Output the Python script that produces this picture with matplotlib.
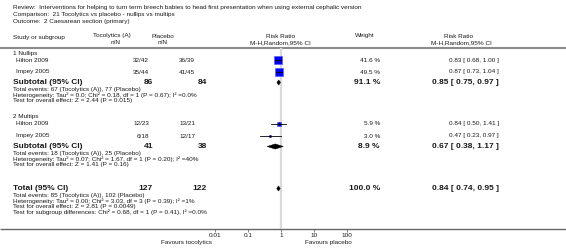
import matplotlib
matplotlib.use('Agg')
import matplotlib.pyplot as plt
import numpy as np

plt.rcParams['font.family'] = ['Liberation Sans', 'DejaVu Sans']

# data
studies = ['Hilton 2009', 'Impey 2005', 'Hilton 2009', 'Impey 2005']
toc_e = [32, 35, 12, 6]
toc_n = [42, 44, 23, 18]
pla_e = [36, 41, 13, 12]
pla_n = [39, 45, 21, 17]
weights = [41.6, 49.5, 5.9, 3.0]
rr = [0.83, 0.87, 0.84, 0.47]
rr_lo = [0.68, 0.73, 0.50, 0.23]
rr_hi = [1.00, 1.04, 1.41, 0.97]

groups = ['1 Nullips', '2 Multips']
sub_toc_n = [86, 41]
sub_pla_n = [84, 38]
sub_w = [91.1, 8.9]
sub_rr = [0.85, 0.67]
sub_lo = [0.75, 0.38]
sub_hi = [0.97, 1.17]
sub_notes = [
    ['Total events: 67 (Tocolytics (A)), 77 (Placebo)',
     'Heterogeneity: Tau\u00b2 = 0.0; Chi\u00b2 = 0.18, df = 1 (P = 0.67); I\u00b2 =0.0%',
     'Test for overall effect: Z = 2.44 (P = 0.015)'],
    ['Total events: 18 (Tocolytics (A)), 25 (Placebo)',
     'Heterogeneity: Tau\u00b2 = 0.07; Chi\u00b2 = 1.67, df = 1 (P = 0.20); I\u00b2 =40%',
     'Test for overall effect: Z = 1.41 (P = 0.16)'],
]
tot_toc_n, tot_pla_n, tot_w = 127, 122, 100.0
tot_rr, tot_lo, tot_hi = 0.84, 0.74, 0.95
tot_notes = ['Total events: 85 (Tocolytics (A)), 102 (Placebo)',
             'Heterogeneity: Tau\u00b2 = 0.00; Chi\u00b2 = 3.03, df = 3 (P = 0.39); I\u00b2 =1%',
             'Test for overall effect: Z = 2.81 (P = 0.0049)',
             'Test for subgroup differences: Chi\u00b2 = 0.68, df = 1 (P = 0.41), I\u00b2 =0.0%']
xticks = [0.01, 0.1, 1, 10, 100]
xticklabels = ['0.01', '0.1', '1', '10', '100']

# row layout (pixels from top)
study_y = [60.5, 72, 123.5, 136]
group_y = [53.5, 116.5]
sub_y = [82.5, 146.5]
tot_y = 188.5
note_dy = 5.5

W, H = 566, 248
fig = plt.figure(figsize=(W / 100, H / 100), dpi=100)
ax = fig.add_axes([0, 0, 1, 1])
ax.set_xlim(0, W)
ax.set_ylim(H, 0)
ax.axis('off')

tc = '#1a1a1a'
fs = 4.6
fb = 6.0

ax.text(13, 8, 'Review:  Interventions for helping to turn term breech babies to head first presentation when using external cephalic version',
        fontsize=fs, color=tc, va='center')
ax.text(13, 14.5, 'Comparison:  21 Tocolytics vs placebo - nullips vs multips', fontsize=fs, color=tc, va='center')
ax.text(13, 21, 'Outcome:  2 Caesarean section (primary)', fontsize=fs, color=tc, va='center')

ax.text(13, 38, 'Study or subgroup', fontsize=fs, color=tc, va='center')
ax.text(112, 36, 'Tocolytics (A)', fontsize=fs, color=tc, va='center', ha='center')
ax.text(116, 42.5, 'n/N', fontsize=fs, color=tc, va='center', ha='center')
ax.text(163, 36, 'Placebo', fontsize=fs, color=tc, va='center', ha='center')
ax.text(163, 42.5, 'n/N', fontsize=fs, color=tc, va='center', ha='center')
ax.text(280, 36, 'Risk Ratio', fontsize=fs, color=tc, va='center', ha='center')
ax.text(280, 42.5, 'M-H,Random,95% CI', fontsize=fs, color=tc, va='center', ha='center')
ax.text(355, 36, 'Weight', fontsize=fs, color=tc, va='center')
ax.text(458, 36, 'Risk Ratio', fontsize=fs, color=tc, va='center', ha='center')
ax.text(461, 42.5, 'M-H,Random,95% CI', fontsize=fs, color=tc, va='center', ha='center')

ax.plot([0, W], [48, 48], color='#8c8c8c', lw=1.5, solid_capstyle='butt')
ax.plot([0, W], [229, 229], color='#666666', lw=1.0, solid_capstyle='butt')

# study rows
for i in range(len(studies)):
    y = study_y[i]
    ax.text(16, y, studies[i], fontsize=fs, color=tc, va='center')
    ax.text(149, y, f'{toc_e[i]}/{toc_n[i]}', fontsize=fs, color=tc, va='center', ha='right')
    ax.text(195, y, f'{pla_e[i]}/{pla_n[i]}', fontsize=fs, color=tc, va='center', ha='right')
    ax.text(380, y, f'{weights[i]:.1f} %', fontsize=fs, color=tc, va='center', ha='right')
    ax.text(499, y, f'{rr[i]:.2f} [ {rr_lo[i]:.2f}, {rr_hi[i]:.2f} ]', fontsize=fs, color=tc, va='center', ha='right')

for g in range(len(groups)):
    ax.text(13, group_y[g], groups[g], fontsize=fs, color=tc, va='center')
    y = sub_y[g]
    ax.text(13, y, 'Subtotal (95% CI)', fontsize=fb, fontweight='bold', color=tc, va='center')
    ax.text(153, y, str(sub_toc_n[g]), fontsize=fb, fontweight='bold', color=tc, va='center', ha='right')
    ax.text(207, y, str(sub_pla_n[g]), fontsize=fb, fontweight='bold', color=tc, va='center', ha='right')
    ax.text(380, y, f'{sub_w[g]:.1f} %', fontsize=fb, fontweight='bold', color=tc, va='center', ha='right')
    ax.text(499, y, f'{sub_rr[g]:.2f} [ {sub_lo[g]:.2f}, {sub_hi[g]:.2f} ]', fontsize=fb, fontweight='bold',
            color=tc, va='center', ha='right')
    for k, line in enumerate(sub_notes[g]):
        ax.text(13, y + 7 + k * note_dy, line, fontsize=fs, color=tc, va='center')

ax.text(13, tot_y, 'Total (95% CI)', fontsize=fb, fontweight='bold', color=tc, va='center')
ax.text(153, tot_y, str(tot_toc_n), fontsize=fb, fontweight='bold', color=tc, va='center', ha='right')
ax.text(207, tot_y, str(tot_pla_n), fontsize=fb, fontweight='bold', color=tc, va='center', ha='right')
ax.text(380, tot_y, f'{tot_w:.1f} %', fontsize=fb, fontweight='bold', color=tc, va='center', ha='right')
ax.text(499, tot_y, f'{tot_rr:.2f} [ {tot_lo:.2f}, {tot_hi:.2f} ]', fontsize=fb, fontweight='bold',
        color=tc, va='center', ha='right')
for k, line in enumerate(tot_notes):
    ax.text(13, tot_y + 7 + k * note_dy, line, fontsize=fs, color=tc, va='center')

ax.text(212, 242.5, 'Favours tocolytics', fontsize=fs, color=tc, va='center', ha='right')
ax.text(305, 242.5, 'Favours placebo', fontsize=fs, color=tc, va='center', ha='left')

# forest panel, log scale
x0, x1 = 215, 347
ytop, ybot = 48, 229
pax = fig.add_axes([x0 / W, (H - ybot) / H, (x1 - x0) / W, (ybot - ytop) / H])
pax.set_xscale('log')
pax.set_xlim(0.01, 100)
pax.set_ylim(ybot, ytop)
pax.patch.set_alpha(0)
for s in pax.spines.values():
    s.set_visible(False)
pax.set_yticks([])
pax.set_xticks(xticks)
pax.set_xticklabels(xticklabels)
pax.xaxis.set_minor_locator(matplotlib.ticker.NullLocator())
pax.tick_params(axis='x', length=1.8, width=0.5, color='#555555', labelsize=fs, labelcolor=tc, pad=0.8)

pax.axvline(1, color='#d9d9d9', lw=1.6, zorder=0)

for i in range(len(studies)):
    y = study_y[i]
    side = 1.25 * np.sqrt(weights[i])
    pax.plot(rr[i], y, marker='s', markersize=side * 0.72, color='#0000ff', mec='#5a5aff', mew=0.5, zorder=2)
    pax.plot([rr_lo[i], rr_hi[i]], [y, y], color='black', lw=0.6, zorder=3)
    pax.plot([rr[i], rr[i]], [y - 1.3, y + 1.3], color='black', lw=0.5, zorder=4)


def diamond(est, lo, hi, y, h=2.6):
    pax.fill([lo, est, hi, est], [y, y - h, y, y + h], color='black', lw=0.3, zorder=3)


for g in range(len(groups)):
    diamond(sub_rr[g], sub_lo[g], sub_hi[g], sub_y[g])
diamond(tot_rr, tot_lo, tot_hi, tot_y)

fig.savefig('out.png', dpi=100)
